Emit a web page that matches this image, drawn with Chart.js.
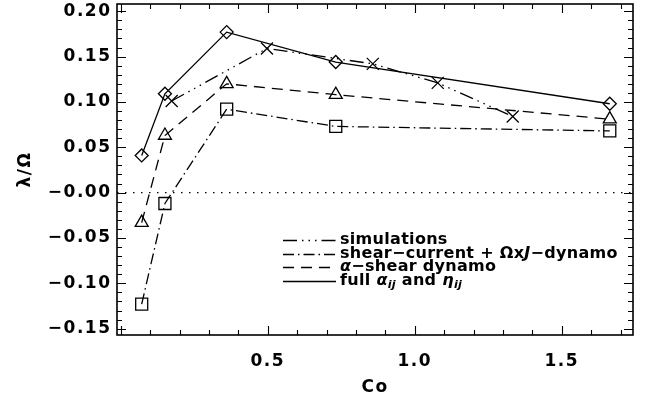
<!DOCTYPE html>
<html>
<head>
<meta charset="utf-8">
<script src="https://cdn.jsdelivr.net/npm/chart.js@4"></script>
<style>
  html, body { margin: 0; padding: 0; background: #fff; }
  #wrap { width: 647px; height: 400px; }
</style>
</head>
<body>
<div id="wrap"><canvas id="c"></canvas></div>
<script>
// values
const simCo     = [0.173, 0.497, 0.857, 1.078, 1.333];
const simLambda = [0.101, 0.159, 0.142, 0.121, 0.084];

const modelCo     = [0.071, 0.150, 0.360, 0.731, 1.663];
const shearLambda = [-0.123, -0.012, 0.092, 0.073, 0.068];
const alphaLambda = [-0.033, 0.063, 0.120, 0.108, 0.081];
const fullLambda  = [0.041, 0.109, 0.177, 0.144, 0.098];

const xTicks = [0.5, 1.0, 1.5];
const yTicks = [-0.15, -0.10, -0.05, 0.00, 0.05, 0.10, 0.15, 0.20];
const xRange = [-0.013, 1.742];
const yRange = [-0.157, 0.208];

// legend text: *..* italic, _{..} italic subscript
const labels = [
  'simulations',
  'shear\u2212current + \u03A9x*J*\u2212dynamo',
  '*\u03B1*\u2212shear dynamo',
  'full *\u03B1*_{ij} and *\u03B7*_{ij}',
];

const pts = (xs, ys) => xs.map((x, i) => ({ x, y: ys[i] }));
const FONT = "'DejaVu Sans', sans-serif";
const axisFont = { family: FONT, size: 17, weight: 'bold' };

const ds = (label, data, style, radius, dash) => ({
  label, data, showLine: true,
  borderColor: '#000', borderWidth: 1.3, borderDash: dash,
  pointStyle: style, pointRadius: radius, pointHoverRadius: radius,
  pointBorderColor: '#000', pointBorderWidth: 1.3,
  pointBackgroundColor: 'rgba(0,0,0,0)',
});

// wide lettering like the IDL font
const spacing = {
  id: 'spacing',
  beforeDraw(chart) { chart.ctx.letterSpacing = '1.5px'; },
};

// IDL-like frame: box on all four sides with inward ticks, plus the legend
const frame = {
  id: 'frame',
  afterDraw(chart) {
    const { ctx, chartArea: a, scales: { x, y } } = chart;
    ctx.save();
    ctx.strokeStyle = '#000';
    ctx.lineWidth = 1.6;
    ctx.strokeRect(a.left, a.top, a.right - a.left, a.bottom - a.top);
    ctx.lineWidth = 1.1;
    ctx.beginPath();
    for (let k = Math.ceil(x.min * 10); k <= x.max * 10; k++) {
      const px = Math.round(x.getPixelForValue(k / 10)) + 0.5, L = k % 5 === 0 ? 9 : 5;
      ctx.moveTo(px, a.bottom); ctx.lineTo(px, a.bottom - L);
      ctx.moveTo(px, a.top); ctx.lineTo(px, a.top + L);
    }
    for (let k = Math.ceil(y.min * 100); k <= y.max * 100; k++) {
      const py = Math.round(y.getPixelForValue(k / 100)) + 0.5, L = k % 5 === 0 ? 9 : 5;
      ctx.moveTo(a.left, py); ctx.lineTo(a.left + L, py);
      ctx.moveTo(a.right, py); ctx.lineTo(a.right - L, py);
    }
    ctx.stroke();

    // legend
    const sets = chart.data.datasets.slice(0, 4);
    const x0 = 283, x1 = 336, tx = 340, rows = [240, 254, 267, 281];
    ctx.letterSpacing = '0.3px';
    sets.forEach((d, i) => {
      const yy = rows[i] + 0.5;
      ctx.setLineDash(d.borderDash || []);
      ctx.lineWidth = 1.3;
      ctx.beginPath(); ctx.moveTo(x0, yy); ctx.lineTo(x1, yy); ctx.stroke();
      ctx.setLineDash([]);
      drawRich(ctx, labels[i], tx, rows[i]);
    });
    ctx.restore();
  }
};

function drawRich(ctx, s, x, y) {
  const size = 16;
  const re = /_\{([^}]*)\}|\*([^*]*)\*|([^*_]+)/g;
  let m;
  ctx.fillStyle = '#000';
  ctx.textBaseline = 'middle';
  ctx.textAlign = 'left';
  while ((m = re.exec(s))) {
    let t, f, dy = 0;
    if (m[1] !== undefined) { t = m[1]; f = `italic bold ${size * 0.7}px ${FONT}`; dy = 4; }
    else if (m[2] !== undefined) { t = m[2]; f = `italic bold ${size}px ${FONT}`; }
    else { t = m[3]; f = `bold ${size}px ${FONT}`; }
    ctx.font = f;
    ctx.fillText(t, x, y + dy);
    x += ctx.measureText(t).width;
  }
}

new Chart(document.getElementById('c'), {
  type: 'scatter',
  data: {
    datasets: [
      ds(labels[0], pts(simCo, simLambda), 'crossRot', 8.5, [14, 5, 1.5, 5, 1.5, 5, 1.5, 5]),
      ds(labels[1], pts(modelCo, shearLambda), 'rect', 8.5, [11, 4, 1.5, 4]),
      ds(labels[2], pts(modelCo, alphaLambda), 'triangle', 7.5, [11, 7]),
      ds(labels[3], pts(modelCo, fullLambda), 'rectRot', 6.5, []),
      { label: 'zero', data: [{ x: xRange[0], y: 0 }, { x: xRange[1], y: 0 }], showLine: true,
        borderColor: '#000', borderWidth: 1.3, borderDash: [1.5, 6.5], pointRadius: 0 },
    ],
  },
  options: {
    responsive: true, maintainAspectRatio: false, animation: false,
    devicePixelRatio: 1,
    layout: { autoPadding: false, padding: { top: 4, right: 14, left: 0, bottom: 0 } },
    plugins: { legend: { display: false }, tooltip: { enabled: false } },
    scales: {
      x: {
        type: 'linear', min: xRange[0], max: xRange[1],
        grid: { display: false, drawTicks: false }, border: { display: false },
        afterBuildTicks: s => { s.ticks = xTicks.map(value => ({ value })); },
        afterFit: s => { s.height = 65; s.paddingLeft = 0; s.paddingRight = 0; },
        ticks: { color: '#000', padding: 16, maxRotation: 0, font: axisFont,
          callback: v => v.toFixed(1) },
        title: { display: true, text: 'Co', color: '#000', padding: { top: 0, bottom: 2 },
          font: axisFont },
      },
      y: {
        min: yRange[0], max: yRange[1],
        grid: { display: false, drawTicks: false }, border: { display: false },
        afterBuildTicks: s => { s.ticks = yTicks.map(value => ({ value })); },
        afterFit: s => { s.width = 117; s.paddingTop = 0; s.paddingBottom = 0; },
        ticks: { color: '#000', padding: 5.5, font: axisFont,
          callback: v => (v <= 0 ? '\u2212' : '') + Math.abs(v).toFixed(2) },
        title: { display: true, text: '\u03BB/\u03A9', color: '#000', padding: { top: 15, bottom: 0 },
          font: axisFont },
      },
    },
  },
  plugins: [spacing, frame],
});
</script>
</body>
</html>
